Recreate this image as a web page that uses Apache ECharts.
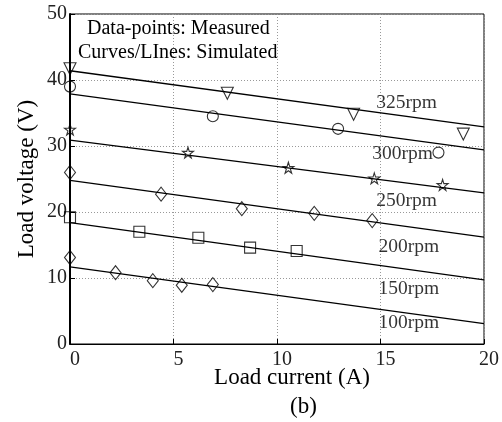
<!DOCTYPE html>
<html>
<head>
<meta charset="utf-8">
<script src="https://cdn.jsdelivr.net/npm/echarts@6/dist/echarts.min.js"></script>
<style>
html,body{margin:0;padding:0;background:#fff;}
#chart{width:502px;height:422px;}
</style>
</head>
<body>
<div id="chart"></div>
<script>
// 转速标签
var speedNames = ['325rpm', '300rpm', '250rpm', '200rpm', '150rpm', '100rpm'];
// 仿真直线 (电流0和20A处的电压)
var simCurrent = [0, 20];
var simV325 = [41.4, 32.9];
var simV300 = [37.9, 29.4];
var simV250 = [30.9, 22.9];
var simV200 = [24.8, 16.2];
var simV150 = [18.4, 9.7];
var simV100 = [11.7, 3.1];
// 实测点
var meaI325 = [0, 7.6, 13.7, 19.0];
var meaV325 = [41.7, 38.0, 34.8, 31.8];
var meaI300 = [0, 6.9, 12.95, 17.8];
var meaV300 = [39.0, 34.5, 32.6, 29.0];
var meaI250 = [0, 5.7, 10.55, 14.7, 18.0];
var meaV250 = [32.5, 29.0, 26.7, 25.1, 24.1];
var meaI200 = [0, 4.4, 8.3, 11.8, 14.6];
var meaV200 = [26.0, 22.7, 20.5, 19.8, 18.7];
var meaI150 = [0, 3.35, 6.2, 8.7, 10.95];
var meaV150 = [19.2, 17.0, 16.1, 14.6, 14.1];
var meaI100 = [0, 2.2, 4.0, 5.4, 6.9];
var meaV100 = [13.1, 10.8, 9.6, 8.9, 9.0];
// 坐标刻度
var xTicks = [0, 5, 10, 15, 20];
var yTicks = [0, 10, 20, 30, 40, 50];

var FONT = '"Liberation Serif", "DejaVu Serif", serif';
var starPath = 'path://M50,0 L61,35 L98,35 L68,57 L79,91 L50,70 L21,91 L32,57 L2,35 L39,35 Z';

function zip(a, b) {
	var r = [];
	for (var i = 0; i < a.length; i++) {
		r.push([a[i], b[i]]);
	}
	return r;
}

var simList = [simV325, simV300, simV250, simV200, simV150, simV100];
var meaList = [
	[meaI325, meaV325, 'triangle', 12, 180],
	[meaI300, meaV300, 'circle', 11, 0],
	[meaI250, meaV250, starPath, 11, 0],
	[meaI200, meaV200, 'diamond', [11, 14], 0],
	[meaI150, meaV150, 'rect', 11, 0],
	[meaI100, meaV100, 'diamond', [11, 14], 0]
];
// 标签位置 (A, V)
var labelAt = [[14.8, 36.6], [14.6, 28.75], [14.8, 21.65], [14.9, 14.7], [14.9, 8.3], [14.9, 3.2]];

var series = [];
for (var s = 0; s < simList.length; s++) {
	series.push({
		type: 'line',
		data: zip(simCurrent, simList[s]),
		showSymbol: false,
		lineStyle: {color: '#000', width: 1.3},
		silent: true,
		z: 2
	});
}
for (var m = 0; m < meaList.length; m++) {
	series.push({
		type: 'scatter',
		data: zip(meaList[m][0], meaList[m][1]),
		symbol: meaList[m][2],
		symbolSize: meaList[m][3],
		symbolRotate: meaList[m][4],
		itemStyle: {color: 'rgba(255,255,255,0)', borderColor: '#000', borderWidth: 1.1},
		z: 3
	});
}
var labelData = [];
for (var k = 0; k < speedNames.length; k++) {
	labelData.push({value: labelAt[k], name: speedNames[k]});
}
series.push({
	type: 'scatter',
	data: labelData,
	symbolSize: 0,
	label: {
		show: true,
		position: 'right',
		distance: 0,
		formatter: '{b}',
		fontFamily: FONT,
		fontSize: 19.5,
		color: '#000'
	},
	z: 4
});

var myChart = echarts.init(document.getElementById('chart'));
var option = {
	animation: false,
	grid: {
		left: 70, top: 14, width: 418, height: 330,
		show: true,
		borderColor: '#000',
		borderWidth: 1,
		backgroundColor: 'transparent'
	},
	xAxis: {
		type: 'value',
		min: xTicks[0],
		max: xTicks[xTicks.length - 1],
		interval: xTicks[1] - xTicks[0],
		name: 'Load current (A)',
		nameLocation: 'middle',
		nameGap: 22,
		nameMoveOverlap: false,
		nameTextStyle: {fontFamily: FONT, fontSize: 23, color: '#000', padding: [0, 0, 0, 30]},
		axisLine: {lineStyle: {color: '#000', width: 1}},
		axisTick: {inside: true, length: 5, lineStyle: {color: '#000'}},
		axisLabel: {fontFamily: FONT, fontSize: 20, color: '#222', margin: 6, padding: [0, 0, 0, 10]},
		splitLine: {show: true, lineStyle: {color: '#999', type: [1, 2], width: 1}}
	},
	yAxis: {
		type: 'value',
		min: yTicks[0],
		max: yTicks[yTicks.length - 1],
		interval: yTicks[1] - yTicks[0],
		name: 'Load voltage (V)',
		nameLocation: 'middle',
		nameGap: 32,
		nameMoveOverlap: false,
		nameTextStyle: {fontFamily: FONT, fontSize: 23, color: '#000'},
		axisLine: {lineStyle: {color: '#000', width: 2}},
		axisTick: {inside: true, length: 5, lineStyle: {color: '#000'}},
		axisLabel: {fontFamily: FONT, fontSize: 20, color: '#222', margin: 3},
		splitLine: {show: true, lineStyle: {color: '#999', type: [1, 2], width: 1}}
	},
	graphic: [
		{type: 'text', left: 87, top: 19, style: {text: 'Data-points: Measured', font: '20px ' + FONT, fill: '#000'}},
		{type: 'text', left: 78, top: 43, style: {text: 'Curves/LInes: Simulated', font: '20px ' + FONT, fill: '#000'}},
		{type: 'text', left: 290, top: 395, style: {text: '(b)', font: '23px ' + FONT, fill: '#000'}}
	],
	series: series
};
myChart.setOption(option);
</script>
</body>
</html>
